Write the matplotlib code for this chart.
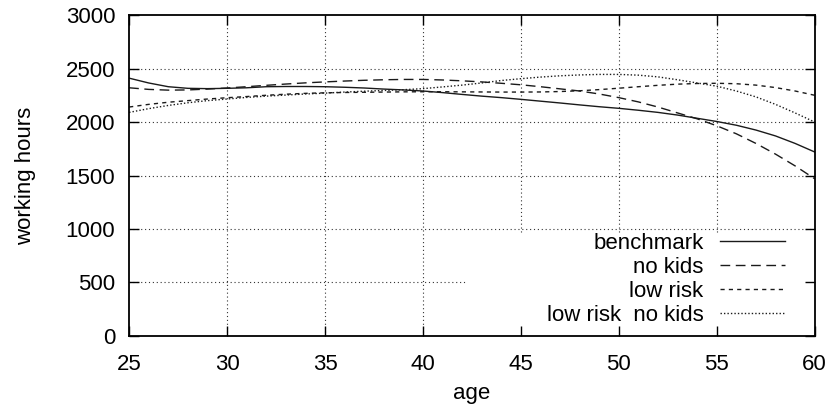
import numpy as np
import matplotlib.pyplot as plt

plt.rcParams['font.family'] = ['Liberation Sans', 'DejaVu Sans']
plt.rcParams['font.size'] = 16

age = np.arange(25, 61)

benchmark = [2410, 2365, 2330, 2315, 2312, 2315, 2320, 2330, 2332, 2332,
             2330, 2325, 2318, 2308, 2300, 2290, 2275, 2258, 2242, 2228,
             2212, 2195, 2178, 2160, 2143, 2128, 2110, 2090, 2065, 2035,
             2005, 1970, 1925, 1870, 1800, 1720]
no_kids = [2320, 2305, 2298, 2300, 2308, 2318, 2330, 2343, 2355, 2366,
           2375, 2383, 2390, 2395, 2398, 2398, 2393, 2385, 2375, 2362,
           2348, 2330, 2310, 2290, 2262, 2228, 2188, 2140, 2085, 2030,
           1965, 1890, 1800, 1700, 1590, 1470]
low_risk = [2140, 2165, 2185, 2200, 2215, 2227, 2238, 2250, 2260, 2268,
            2273, 2276, 2278, 2280, 2282, 2283, 2283, 2282, 2281, 2280,
            2280, 2281, 2285, 2292, 2303, 2316, 2330, 2343, 2354, 2360,
            2362, 2358, 2345, 2322, 2290, 2250]
low_risk_no_kids = [2090, 2125, 2155, 2180, 2200, 2215, 2230, 2242, 2252, 2262,
                    2270, 2280, 2288, 2295, 2302, 2312, 2328, 2345, 2365, 2388,
                    2405, 2420, 2432, 2440, 2445, 2445, 2438, 2422, 2395, 2365,
                    2335, 2290, 2235, 2165, 2085, 2000]

labels = ['benchmark', 'no kids', 'low risk', 'low risk  no kids']
styles = ['-', (0, (7, 4)), (0, (3, 3)), (0, (1, 1.5))]

xticks = np.arange(25, 61, 5)
yticks = np.arange(0, 3001, 500)

fig = plt.figure(figsize=(8.33, 4.12), dpi=100)
ax = fig.add_axes([0.155, 0.1845, 0.823, 0.779])
ax.set_xlim(25, 60)
ax.set_ylim(0, 3000)

# dotted grid, left out where the key sits (lower right corner)
key_x, key_y = 0.491, 0.324
grid_kw = dict(color='#333333', lw=0.8, ls=(0, (1, 2.5)), zorder=0.5)
for x in xticks[1:-1]:
    if (x - 25) / 35 > key_x:
        ax.axvline(x, ymin=key_y, ymax=1, **grid_kw)
    else:
        ax.axvline(x, **grid_kw)
for y in yticks[1:-1]:
    if y / 3000 < key_y:
        ax.axhline(y, xmin=0, xmax=key_x, **grid_kw)
    else:
        ax.axhline(y, **grid_kw)

for series, lab, st in zip([benchmark, no_kids, low_risk, low_risk_no_kids], labels, styles):
    ax.plot(age, series, color='#1a1a1a', lw=1.0, ls=st, label=lab)

ax.set_xticks(xticks)
ax.set_yticks(yticks)
ax.tick_params(direction='in', length=7, width=1, top=True, right=True)
ax.tick_params(axis='x', pad=13)
ax.tick_params(axis='y', pad=10)
for s in ax.spines.values():
    s.set_linewidth(1.3)

ax.set_xlabel('age', labelpad=6)
ax.set_ylabel('working hours', labelpad=21)

ax.legend(loc='lower right', bbox_to_anchor=(0.956, 0.032), markerfirst=False,
          frameon=False, borderpad=0, borderaxespad=0, handlelength=2.9,
          handletextpad=0.75, labelspacing=0.13)

fig.savefig('out.png', dpi=100)
